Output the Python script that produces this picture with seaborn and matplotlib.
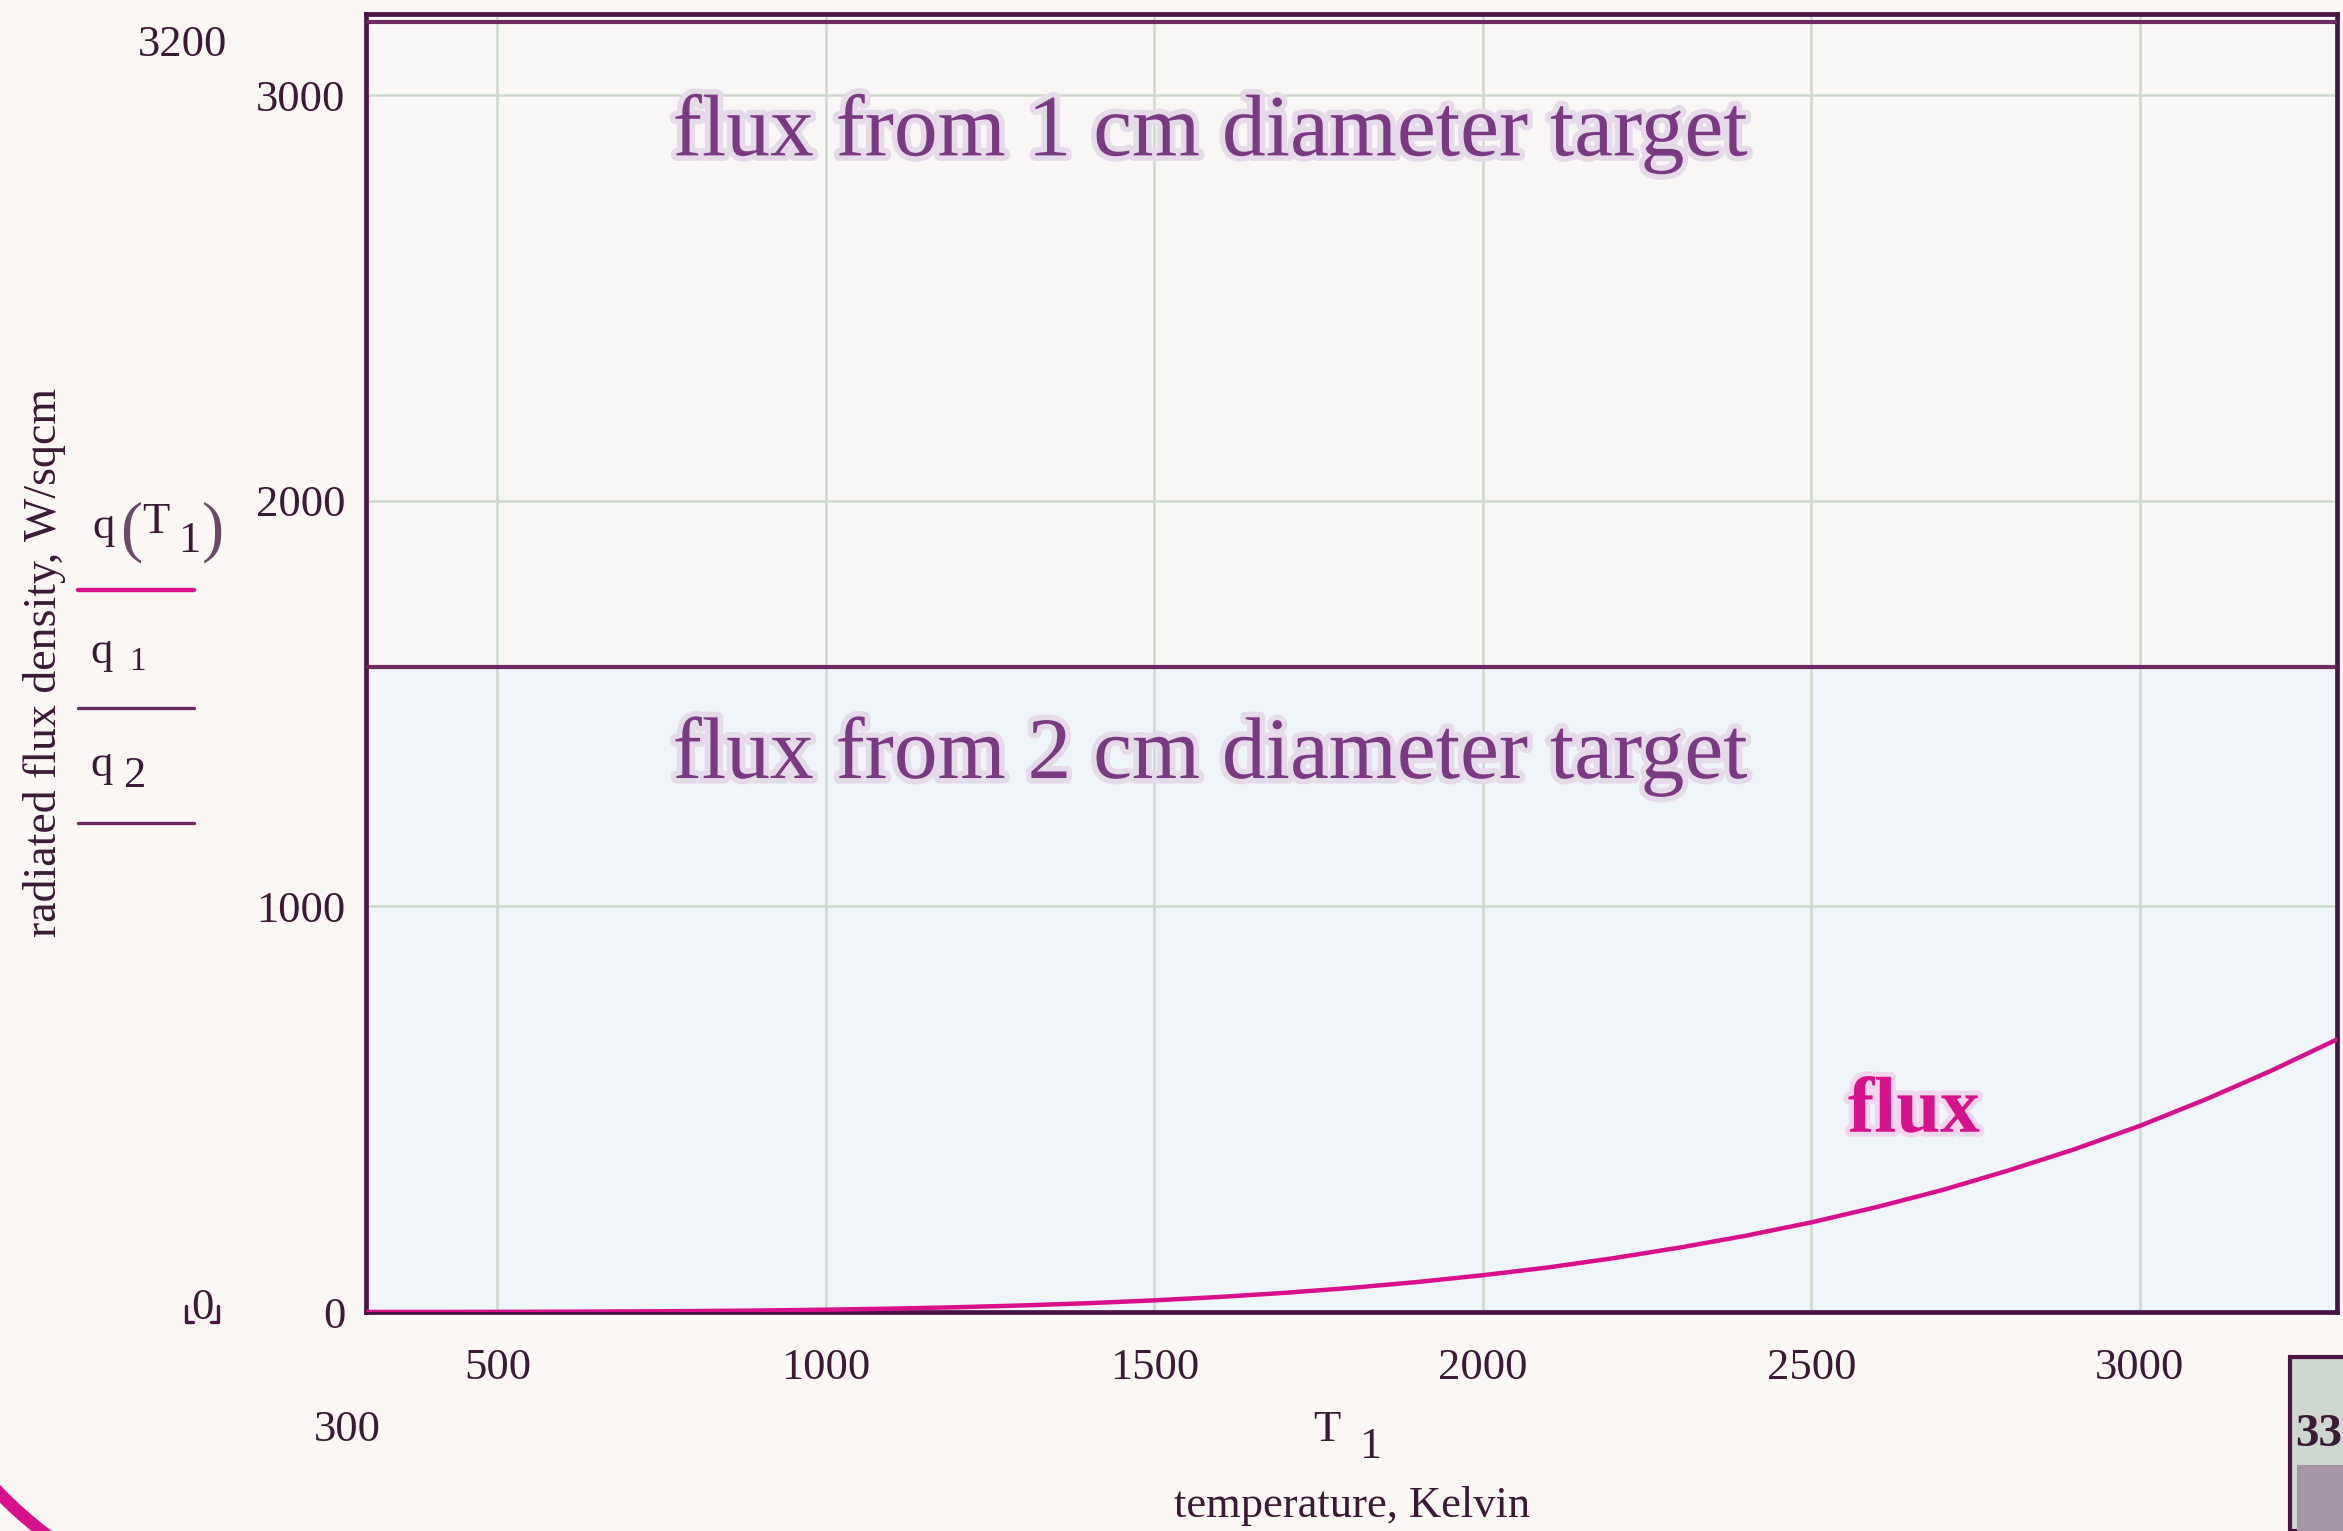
import numpy as np
import pandas as pd
import seaborn as sns
import matplotlib
matplotlib.use("Agg")
import matplotlib.pyplot as plt
from matplotlib import patheffects
from matplotlib.lines import Line2D
from matplotlib.patches import Rectangle, Arc

# ---- data ---------------------------------------------------------------
temperature_K = [300, 400, 500, 600, 700, 800, 900, 1000, 1100, 1200, 1300,
                 1400, 1500, 1600, 1700, 1800, 1900, 2000, 2100, 2200, 2300,
                 2400, 2500, 2600, 2700, 2800, 2900, 3000, 3100, 3200, 3300]
flux_W_sqcm = [0.05, 0.15, 0.35, 0.7, 1.4, 2.3, 3.7, 5.7, 8.3, 11.8, 16.2,
               21.8, 28.7, 37.2, 47.4, 59.5, 73.9, 90.7, 110, 133, 159,
               188, 221, 259, 301, 349, 401, 459, 524, 595, 672]
q1_level = 3180          # flux from 1 cm diameter target
q2_level = 1590          # flux from 2 cm diameter target

x_ticks = [500, 1000, 1500, 2000, 2500, 3000]
y_ticks = [0, 1000, 2000, 3000]
x_limits = (300, 3300)
y_limits = (0, 3200)

# ---- style --------------------------------------------------------------
sns.set_theme(style="white")
plt.rcParams["font.family"] = ["Liberation Serif", "DejaVu Serif"]

PURPLE = "#4b1445"
LINE_PURPLE = "#6b2a63"
TEXT_PURPLE = "#7a3a82"
MAGENTA = "#d8108c"
GRID = "#cdd8cd"
FIG_BG = "#faf7f5"
INK = "#3a1a35"
TICK_SIZE = 32

W, H = 2343, 1531
fig = plt.figure(figsize=(W / 100, H / 100), dpi=100, facecolor=FIG_BG)
ax = fig.add_axes([366 / W, 1 - 1312 / H, (2337 - 366) / W, (1312 - 14) / H])
ax.set_facecolor("#f6f7f7")
# paper tint: warm white above, cool tint below
ax.axhspan(y_limits[0], q2_level, color="#eff5f8", zorder=0, linewidth=0)
ax.axhspan(q2_level, y_limits[1], color="#f9f7f5", zorder=0, linewidth=0)

df = pd.DataFrame({"T": temperature_K, "q": flux_W_sqcm})
sns.lineplot(data=df, x="T", y="q", ax=ax, color=MAGENTA, linewidth=3.2,
             zorder=4)
ax.axhline(q1_level, color=LINE_PURPLE, linewidth=3.0, zorder=3)
ax.axhline(q2_level, color=LINE_PURPLE, linewidth=3.0, zorder=3)

ax.set_xlim(*x_limits)
ax.set_ylim(*y_limits)
ax.set_xticks(x_ticks)
ax.set_yticks(y_ticks)
ax.set_xticklabels([str(v) for v in x_ticks])
ax.set_yticklabels([str(v) for v in y_ticks])
ax.tick_params(axis="x", length=0, pad=26, labelsize=TICK_SIZE, colors=INK)
ax.tick_params(axis="y", length=0, pad=15, labelsize=TICK_SIZE, colors=INK)
ax.set_xlabel("")
ax.set_ylabel("")
ax.grid(True, color=GRID, linewidth=1.8, zorder=1)
ax.set_axisbelow(True)
for s in ax.spines.values():
    s.set_color(PURPLE)
    s.set_linewidth(3.4)
    s.set_visible(True)

halo = [patheffects.withStroke(linewidth=8, foreground="#e4dae8")]
ax.text(1585, 2905, "flux from 1 cm diameter target", fontsize=63,
        color=TEXT_PURPLE, ha="center", va="center", path_effects=halo, zorder=5)
ax.text(1585, 1370, "flux from 2 cm diameter target", fontsize=63,
        color=TEXT_PURPLE, ha="center", va="center", path_effects=halo, zorder=5)
ax.text(2656, 490, "flux", fontsize=57, fontweight="bold", color=MAGENTA,
        ha="center", va="center",
        path_effects=[patheffects.withStroke(linewidth=7, foreground="#efd6ea")],
        zorder=5)

# ---- margin annotations (figure pixel positions, y from top) ------------
def ftext(x, y, s, size=TICK_SIZE, **kw):
    kw.setdefault("color", INK)
    fig.text(x / W, 1 - y / H, s, fontsize=size, ha="center", va="center", **kw)

def fline(x0, x1, y, color, lw):
    fig.add_artist(Line2D([x0 / W, x1 / W], [1 - y / H, 1 - y / H],
                          color=color, linewidth=lw, transform=fig.transFigure))

# axis limit labels
ftext(182, 45, "3200")
ftext(347, 1430, "300")
ftext(202, 1308, "0")
fig.add_artist(Line2D([186 / W, 186 / W, 193 / W],
                      [1 - 1306 / H, 1 - 1322 / H, 1 - 1322 / H],
                      color=PURPLE, linewidth=2.4, transform=fig.transFigure))
fig.add_artist(Line2D([211 / W, 218 / W, 218 / W],
                      [1 - 1322 / H, 1 - 1322 / H, 1 - 1306 / H],
                      color=PURPLE, linewidth=2.4, transform=fig.transFigure))

# x axis title
ftext(1327, 1430, "T")
ftext(1370, 1447, "1")
ftext(1352, 1506, "temperature, Kelvin")

# y axis title and trace key
fig.text(45 / W, 1 - 662 / H, "radiated flux density, W/sqcm", fontsize=33,
         rotation=90, ha="center", va="center", color=INK)
ftext(104, 527, "q")
ftext(131, 532, "(", size=48, color="#6a4a66")
ftext(156, 522, "T")
ftext(189, 541, "1")
ftext(213, 532, ")", size=48, color="#6a4a66")
fline(78, 194, 590, MAGENTA, 3.2)
ftext(102, 652, "q")
ftext(137, 662, "1", size=24)
fline(78, 194, 708, LINE_PURPLE, 2.4)
ftext(102, 765, "q")
ftext(135, 776, "2")
fline(78, 194, 823, LINE_PURPLE, 2.4)

# page corner marks
fig.add_artist(Arc((300 / W, 1 - 1200 / H), 2 * 420 / W, 2 * 420 / H,
                   theta1=210, theta2=245, color=MAGENTA, linewidth=9,
                   transform=fig.transFigure))
fig.add_artist(Rectangle((2290 / W, 0), 80 / W, 1 - 1357 / H,
                         facecolor="#cdd7cf", edgecolor=PURPLE, linewidth=3,
                         transform=fig.transFigure))
fig.add_artist(Rectangle((2297 / W, 0), 80 / W, (1531 - 1465) / H,
                         facecolor="#a794a8", edgecolor="none", hatch="....",
                         transform=fig.transFigure))
fig.text(2295 / W, 1 - 1435 / H, "33", fontsize=34, fontweight="bold",
         color=INK, ha="left", va="center")

fig.savefig("out.png", dpi=100, facecolor=FIG_BG)
